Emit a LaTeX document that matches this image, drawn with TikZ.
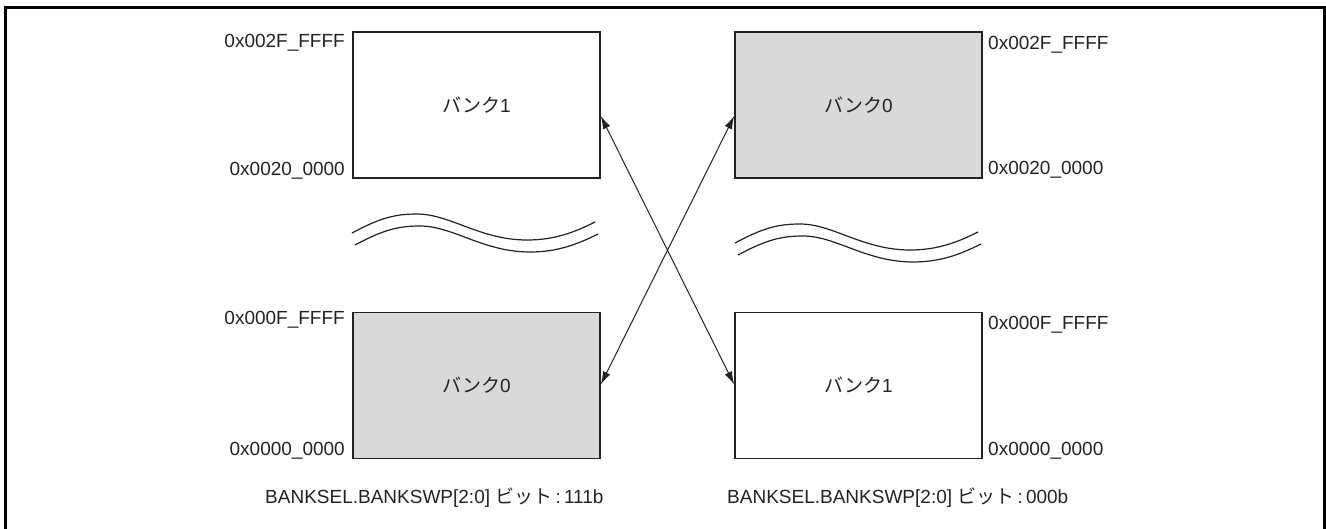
\documentclass[tikz,border=0pt]{standalone}
\usepackage{fontspec}
\setmainfont{Liberation Sans}
\newfontfamily\jp{Noto Sans CJK JP}
\usetikzlibrary{arrows.meta}
\definecolor{bankgray}{HTML}{D9D9D9}
\definecolor{ink}{HTML}{222222}
\begin{document}
\begin{tikzpicture}[x=1pt,y=-1pt,
  font=\fontsize{19}{23}\selectfont,
  bank/.style={draw=ink,line width=1.6pt,minimum width=247pt,minimum height=146pt,inner sep=0pt,text=ink},
  shaded/.style={bank,fill=bankgray},
  addr/.style={inner sep=0pt,text=ink},
  swap/.style={ink,line width=1pt,{Latex[length=13pt,width=8pt]}-{Latex[length=13pt,width=8pt]}},
  wave/.pic={
    \draw[ink,line width=1.2pt] (0,0) .. controls (28,-15) and (43,-19) .. (65,-19)
      .. controls (98,-19) and (128,7) .. (175,7) .. controls (203,7) and (223,-1) .. (243,-11);
    \draw[ink,line width=1.2pt] (3,12) .. controls (31,-3) and (46,-7) .. (68,-7)
      .. controls (101,-7) and (131,19) .. (178,19) .. controls (206,19) and (226,11) .. (246,1);
  }]
\useasboundingbox (0,0) rectangle (1326,529);
% outer frame, open at the bottom
\draw[black,line width=3pt] (5,529) -- (5,8) -- (1324,8) -- (1324,529);

% BANKSWP = 111b: bank 1 mapped high, bank 0 mapped low
\node[bank]   (lt) at (476.5,105)   {{\jp バンク}1};
\node[shaded] (lb) at (476.5,385.5) {{\jp バンク}0};
% BANKSWP = 000b: bank 0 mapped high, bank 1 mapped low
\node[shaded] (rt) at (858.5,105)   {{\jp バンク}0};
\node[bank]   (rb) at (858.5,385.5) {{\jp バンク}1};

% address labels
\node[addr,anchor=east] (lt-hi) at (345,43)  {0x002F\_FFFF};
\node[addr,anchor=east] (lt-lo) at (345,171) {0x0020\_0000};
\node[addr,anchor=east] (lb-hi) at (345,320) {0x000F\_FFFF};
\node[addr,anchor=east] (lb-lo) at (345,451) {0x0000\_0000};
\node[addr,anchor=west] (rt-hi) at (988,45)  {0x002F\_FFFF};
\node[addr,anchor=west] (rt-lo) at (988,170) {0x0020\_0000};
\node[addr,anchor=west] (rb-hi) at (988,325) {0x000F\_FFFF};
\node[addr,anchor=west] (rb-lo) at (988,451) {0x0000\_0000};

% omitted address range
\pic at (352,233) {wave};
\pic at (735,243) {wave};

% swap connectors between the two mappings
\path (lt.east) ++(0,11) coordinate (lt-a);
\path (lb.east) ++(0,-1) coordinate (lb-a);
\path (rt.west) ++(0,11) coordinate (rt-a);
\path (rb.west) ++(0,-1) coordinate (rb-a);
\draw[swap] (lt-a) -- (rb-a);
\draw[swap] (rt-a) -- (lb-a);

% register settings
\node[addr,anchor=west] (cap-l) at (265,498) {BANKSEL.BANKSWP[2:0] {\jp ビット}\,:\,111b};
\node[addr,anchor=west] (cap-r) at (727,498) {BANKSEL.BANKSWP[2:0] {\jp ビット}\,:\,000b};
\end{tikzpicture}
\end{document}
